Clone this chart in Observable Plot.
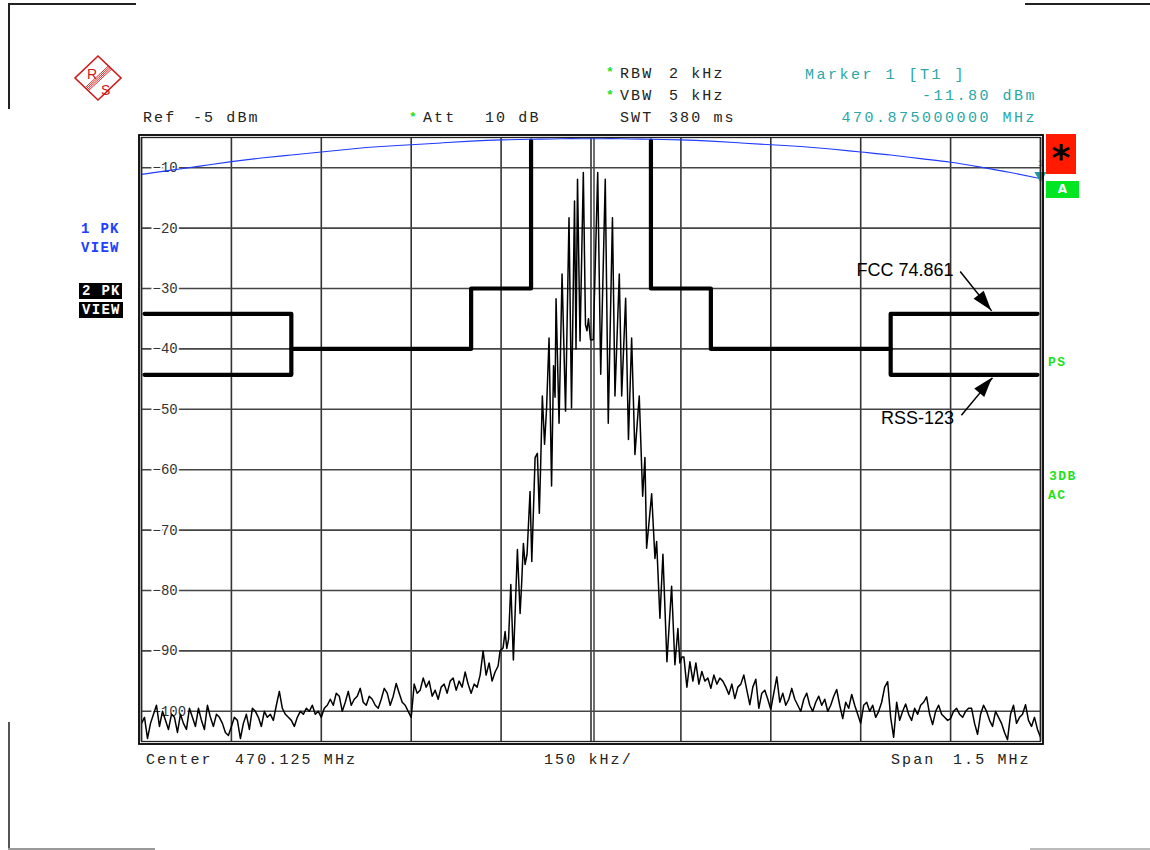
<!DOCTYPE html>
<html><head><meta charset="utf-8">
<script src="https://cdn.jsdelivr.net/npm/d3@7"></script>
<script src="https://cdn.jsdelivr.net/npm/@observablehq/plot@0.6"></script>
<style>
body{margin:0;background:#fff;}
#page{position:relative;width:1150px;height:850px;overflow:hidden;background:#fff;}
#chart{position:absolute;left:0;top:0;}
.t{position:absolute;font-family:"Liberation Mono","Courier New",monospace;font-size:15px;letter-spacing:2.1px;white-space:pre;line-height:1;transform:translateY(-50%);color:#222;}
.teal{color:#2aa7a7;letter-spacing:2.5px;}
.star{color:#1ee11e;font-size:13px;font-weight:bold;letter-spacing:0;}
.b{font-weight:bold;font-size:14px;letter-spacing:1.3px;}
.blue{color:#2040ff;}
.grn{color:#1ee11e;font-size:13px;letter-spacing:1.5px;}
.box{position:absolute;background:#000;color:#fff;font-family:"Liberation Mono",monospace;font-weight:bold;font-size:14px;letter-spacing:1.3px;line-height:16px;height:16px;padding-left:3px;white-space:pre;}
.ln{position:absolute;background:#222;}
</style></head>
<body>
<div id="page">
<div id="chart"></div>

<!-- corner brackets -->
<div class="ln" style="left:8px;top:3px;width:128px;height:1.5px"></div>
<div class="ln" style="left:8px;top:3px;width:1.5px;height:106px"></div>
<div class="ln" style="left:1025px;top:3px;width:125px;height:1.5px"></div>
<div class="ln" style="left:8px;top:722px;width:1.5px;height:128px;background:#555"></div>
<div class="ln" style="left:8px;top:848px;width:147px;height:1.5px;background:#999"></div>
<div class="ln" style="left:1030px;top:848px;width:120px;height:1.5px;background:#bbb"></div>

<!-- R&S logo -->
<svg style="position:absolute;left:68px;top:52px" width="60" height="52" viewBox="0 0 60 52">
  <polygon points="30,4 53,26 30,48 7,26" fill="none" stroke="#d01818" stroke-width="1.6"/>
  <g stroke="#d01818" stroke-width="0.9">
    <line x1="40.2" y1="14.2" x2="17.2" y2="35.6"/>
    <line x1="41.3" y1="15.2" x2="18.3" y2="36.6"/>
    <line x1="42.4" y1="16.2" x2="19.4" y2="37.6"/>
    <line x1="43.5" y1="17.2" x2="20.5" y2="38.6"/>
  </g>
  <text x="19" y="27" font-family="Liberation Sans" font-size="14" fill="#d01818">R</text>
  <text x="33" y="43" font-family="Liberation Sans" font-size="14" fill="#d01818">S</text>
</svg>

<!-- header -->
<div class="t star" style="left:606px;top:72px">*</div>
<div class="t" style="left:620px;top:74px">RBW</div>
<div class="t" style="left:669px;top:74px">2 kHz</div>
<div class="t star" style="left:606px;top:95px">*</div>
<div class="t" style="left:620px;top:96px">VBW</div>
<div class="t" style="left:669px;top:96px">5 kHz</div>
<div class="t" style="left:620px;top:118px">SWT</div>
<div class="t" style="left:669px;top:118px">380 ms</div>
<div class="t" style="left:143px;top:118px">Ref</div>
<div class="t" style="left:193px;top:118px">-5 dBm</div>
<div class="t star" style="left:409px;top:117px">*</div>
<div class="t" style="left:423px;top:118px">Att</div>
<div class="t" style="left:485px;top:118px">10 dB</div>
<div class="t teal" style="left:805px;top:75px">Marker 1 [T1 ]</div>
<div class="t teal" style="right:113px;top:96px">-11.80 dBm</div>
<div class="t teal" style="right:113px;top:118px">470.875000000 MHz</div>

<!-- footer -->
<div class="t" style="left:146px;top:760px">Center</div>
<div class="t" style="left:235px;top:760px">470.125 MHz</div>
<div class="t" style="left:544px;top:760px">150 kHz/</div>
<div class="t" style="left:891px;top:760px">Span</div>
<div class="t" style="left:953px;top:760px">1.5 MHz</div>

<!-- left trace labels -->
<div class="t b blue" style="left:81px;top:229px">1 PK</div>
<div class="t b blue" style="left:81px;top:248px">VIEW</div>
<div class="box" style="left:79px;top:283px;width:40px">2 PK</div>
<div class="box" style="left:79px;top:302px;width:41px">VIEW</div>

<!-- right side -->
<div style="position:absolute;left:1046px;top:134px;width:30px;height:40px;background:#ff1a00;text-align:center;font-family:'DejaVu Sans';font-weight:bold;font-size:36px;line-height:40px;color:#000;box-sizing:border-box"><span style="position:relative;top:4px">*</span></div>
<div style="position:absolute;left:1046px;top:181px;width:33px;height:17px;background:#00e622;text-align:center;font-family:'DejaVu Sans';font-weight:bold;font-size:12px;line-height:17px;color:#fff">A</div>
<div class="t b grn" style="left:1048px;top:362px">PS</div>
<div class="t b grn" style="left:1049px;top:476px">3DB</div>
<div class="t b grn" style="left:1048px;top:495px">AC</div>
</div>

<script>
// ---------- data ----------
// frequency offsets from center (470.125 MHz), in kHz; levels in dBm
const xDomain = [-750, 750];
const yDomain = [-105, -5];
const gridFreqs = [-750, -600, -450, -300, -150, 0, 150, 300, 450, 600, 750];
const gridLevels = [-10, -20, -30, -40, -50, -60, -70, -80, -90, -100];
const levelLabels = ["\u221210", "\u221220", "\u221230", "\u221240", "\u221250", "\u221260", "\u221270", "\u221280", "\u221290", "\u2212100"];

// trace 2 (PK, black): noise floor left of the signal, sweep points every 5 kHz from -750 kHz
const sweepStep = 5;
const noiseLeftStart = -750;
const noiseLeftDbm = [
 -102,-101,-104.5,-102,-100.5,-99,-102.5,-100,-101.5,-103,
 -100.5,-101,-103.5,-100.5,-102,-103,-99.5,-101,-102.5,-99.5,
 -101.5,-103,-99,-101,-102.5,-100.5,-101,-102,-103.5,-104,
 -102.5,-101,-101.5,-104.5,-102,-100.5,-103,-99.5,-100,-101,
 -102.5,-100,-101,-100.5,-101.5,-99,-96.7,-99.5,-100.5,-101,
 -101.5,-102.5,-101,-100,-100.5,-99.5,-100,-99,-100.5,-100,
 -101,-99.5,-99,-98,-99,-97,-97.5,-100,-98.5,-96.7,
 -99,-98,-97.5,-96.2,-98.5,-99,-97.5,-98,-99,-99.5,
 -98,-96.2,-97,-99,-97.5,-95.4,-97,-98.5,-99,-100,
 -101,-95.5,-97,-96.5,-94.5,-96,-95,-97.5,-96.5,-98,
 -96,-95.5,-97,-95,-94.5,-96.5,-95,-96,-93.5,-95.5,
 -97,-95.5,-96,-94,-90,-94,-92,-95,-93.5,-92.5
];
// modulated signal core: explicit frequency / level pairs
const coreKHz = [
 -151.7,-146.7,-143.3,-140.5,-137.5,-133.8,-129.5,-126.7,-122.8,-118.3,
 -115.8,-112.8,-110,-106.7,-101.7,-98.8,-95.8,-93.3,-89.5,-86.2,
 -84.2,-81.2,-77.5,-74.2,-70,-65.8,-62.5,-60,-58.3,-53.3,
 -48.3,-42.5,-36.7,-32.5,-27.5,-25,-22.5,-18.3,-12.8,-9.2,
 -6.7,-4.2,-0.8,3.8,11.2,16.2,23.8,28.8,35.8,40,
 47.2,51.2,57.8,62.5,67.8,73.3,80.5,86.2,90,92.8,
 101.2,106.7,109.5,115,120,126.7,134.5,140,145,148.3,151.7
];
const coreDbm = [
 -90,-89.5,-86.8,-89.6,-88,-79,-91.5,-84,-73.2,-83.8,
 -79,-72.2,-75.7,-74,-63.6,-75.2,-66,-58,-57.3,-67.2,
 -60,-47.8,-55.8,-50,-38.2,-62.7,-42.8,-48,-31.7,-52.3,
 -27.6,-50.3,-18.3,-49.8,-15.5,-40,-11.9,-38.7,-10.8,-36,
 -37,-35,-38.5,-38.5,-10.8,-44.2,-11.9,-52.3,-18.3,-47.8,
 -27.6,-47.8,-31.6,-55,-38.2,-57.5,-47.8,-64.4,-58,-73,
 -64,-74.7,-71.9,-84.6,-74,-91.8,-79.3,-92.3,-86.3,-92,-91
];
// noise floor right of the signal, sweep points every 5 kHz from +155 kHz
const noiseRightStart = 155;
const noiseRightDbm = [
 -91,-96,-91.8,-95,-92,-95.5,-93.4,-95,-94.5,-96.2,
 -94,-95.5,-94.5,-95,-96,-97.2,-95.5,-97.9,-96,-95.5,
 -94,-96.5,-98.9,-96,-94.7,-99.5,-97,-96.5,-98,-99.7,
 -97,-94.3,-98.5,-97,-99,-98,-96.2,-98,-99,-100,
 -98,-97,-99,-100,-98.5,-97.5,-99,-98,-100,-99,
 -97.5,-96.4,-99,-101.2,-98.5,-99.5,-97.2,-99,-100.5,-102,
 -99,-98.5,-100,-99,-101,-100,-98.5,-96,-95.1,-101,
 -104.3,-98.5,-101.5,-100,-98.8,-100.5,-101.5,-99.5,-100.5,-99,
 -98.5,-97.6,-100.5,-102.2,-100,-99,-100.5,-101,-101.5,-101.2,
 -100,-99.5,-100.5,-101,-100,-99.5,-99.5,-102,-103.8,-100.5,
 -99,-100,-101.5,-102.5,-100,-101,-102,-103.5,-104.7,-100.5,
 -99,-102,-101,-100.5,-98.9,-101.5,-102.5,-101,-103,-104.3
];

// trace 1 (PK, blue)
const trace1KHz = [-750,-700,-650,-600,-550,-500,-450,-400,-350,-300,-250,-200,-150,-100,-50,0,50,100,150,200,250,300,350,400,450,500,550,600,650,700,750];
const trace1Dbm = [-11.1,-10.4,-9.7,-9.0,-8.4,-7.9,-7.4,-6.9,-6.5,-6.2,-5.9,-5.6,-5.4,-5.3,-5.2,-5.2,-5.2,-5.3,-5.4,-5.6,-5.9,-6.2,-6.5,-6.9,-7.4,-7.9,-8.5,-9.1,-9.9,-10.8,-11.8];

// limit lines
const fccLeftKHz = [-745,-500,-500,-200,-200,-100,-100];
const fccLeftDbm = [-34.2,-34.2,-40,-40,-30,-30,-5.5];
const fccRightKHz = [100,100,200,200,500,500,745];
const fccRightDbm = [-5.5,-30,-30,-40,-40,-34.2,-34.2];
const rssLeftKHz = [-745,-500,-500];
const rssLeftDbm = [-44.3,-44.3,-40];
const rssRightKHz = [500,500,745];
const rssRightDbm = [-40,-44.3,-44.3];

// annotations
const annoText = ["FCC 74.861", "RSS-123"];
const annoKHz = [443, 484];
const annoDbm = [-27.0, -51.5];
const arrowFromKHz = [616, 618];
const arrowFromDbm = [-27.2, -51.0];
const arrowToKHz = [668.5, 670];
const arrowToDbm = [-33.7, -44.8];

// marker 1
const markerKHz = [750];
const markerDbm = [-11.8];

// ---------- build ----------
const trace2 = [
  ...noiseLeftDbm.map((v, i) => ({f: noiseLeftStart + i * sweepStep, db: v})),
  ...coreKHz.map((f, i) => ({f, db: coreDbm[i]})),
  ...noiseRightDbm.map((v, i) => ({f: noiseRightStart + i * sweepStep, db: v}))
];
const trace1 = trace1KHz.map((f, i) => ({f, db: trace1Dbm[i]}));
const mk = (xs, ys, g) => xs.map((f, i) => ({f, db: ys[i], g}));
const masks = [
  ...mk(fccLeftKHz, fccLeftDbm, "fl"), ...mk(fccRightKHz, fccRightDbm, "fr"),
  ...mk(rssLeftKHz, rssLeftDbm, "rl"), ...mk(rssRightKHz, rssRightDbm, "rr")
];
const annos = annoText.map((t, i) => ({t, f: annoKHz[i], db: annoDbm[i]}));
const arrows = arrowFromKHz.map((f, i) => ({x1: f, y1: arrowFromDbm[i], x2: arrowToKHz[i], y2: arrowToDbm[i]}));
const labels = gridLevels.map((v, i) => ({v, t: levelLabels[i]}));
const markers = markerKHz.map((f, i) => ({f, db: markerDbm[i]}));

const plot = Plot.plot({
  width: 1150, height: 850,
  marginLeft: 141, marginRight: 110, marginTop: 137, marginBottom: 109,
  style: {background: "transparent", overflow: "visible"},
  x: {domain: xDomain, axis: null},
  y: {domain: yDomain, axis: null},
  marks: [
    Plot.ruleX(gridFreqs, {stroke: "#333", strokeWidth: 1.6}),
    Plot.ruleX([0], {stroke: "#333", strokeWidth: 1.4, dx: 3}),
    Plot.ruleY(gridLevels, {stroke: "#444", strokeWidth: 1.6}),
    Plot.text(labels, {x: () => xDomain[0], y: "v", text: "t", dx: 11, textAnchor: "start",
      fill: "#333", stroke: "white", strokeWidth: 4, fontFamily: "Liberation Mono", fontSize: 14}),
    Plot.line(masks, {x: "f", y: "db", z: "g", stroke: "#000", strokeWidth: 4.2, strokeLinecap: "round", strokeLinejoin: "round"}),
    Plot.line(trace1, {x: "f", y: "db", stroke: "#1f3cff", strokeWidth: 1.1, curve: "natural", clip: true}),
    Plot.line(trace2, {x: "f", y: "db", stroke: "#000", strokeWidth: 1.5, clip: true}),
    Plot.link(arrows, {x1: "x1", y1: "y1", x2: "x2", y2: "y2", stroke: "#000", strokeWidth: 1.5}),
    Plot.text(annos, {x: "f", y: "db", text: "t", textAnchor: "start", fill: "#000",
      fontFamily: "Liberation Sans", fontSize: 18}),
    Plot.dot(markers, {x: "f", y: "db", symbol: "triangle", rotate: 180,
      r: 4.5, fill: "#1a9a9a", stroke: "none", dy: -3}),
    Plot.text(markers, {x: "f", y: "db", text: () => "1",
      fill: "#1a9a9a", fontSize: 9, fontFamily: "Liberation Mono", dy: -15}),
    Plot.frame({stroke: "#222", strokeWidth: 1.3}),
    Plot.frame({stroke: "#000", strokeWidth: 1.8, inset: -2.5})
  ]
});
document.getElementById("chart").appendChild(plot);

// filled arrowheads, positioned through the plot's own scales
const sx = plot.scale("x"), sy = plot.scale("y");
const svg = d3.select(plot.tagName.toLowerCase() === "svg" ? plot : plot.querySelector("svg"));
arrows.forEach(a => {
  const p1 = [sx.apply(a.x1), sy.apply(a.y1)], p2 = [sx.apply(a.x2), sy.apply(a.y2)];
  const dx = p2[0] - p1[0], dy = p2[1] - p1[1], len = Math.hypot(dx, dy);
  const ux = dx / len, uy = dy / len, L = 20, W = 6.5;
  const bx = p2[0] - ux * L, by = p2[1] - uy * L;
  svg.append("polygon")
    .attr("points", [[p2[0], p2[1]], [bx - uy * W, by + ux * W], [bx + uy * W, by - ux * W]].map(p => p.join(",")).join(" "))
    .attr("fill", "#000");
});
</script>
</body></html>
